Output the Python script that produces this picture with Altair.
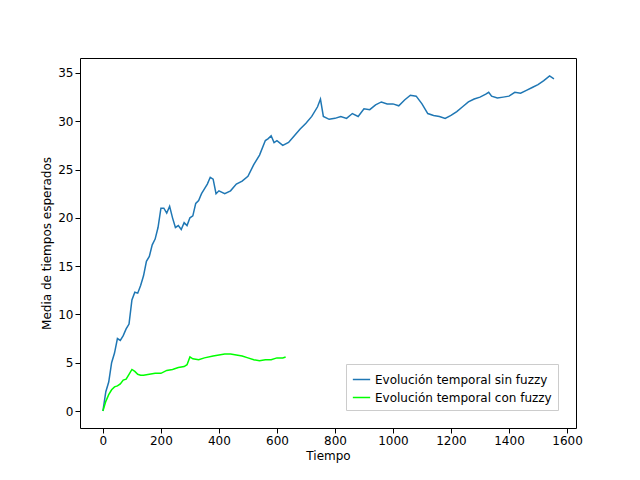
import altair as alt
import pandas as pd

bx = [0,10,20,30,40,50,60,70,80,90,100,110,120,130,140,150,160,170,180,190,200,210,220,230,240,250,260,270,280,290,300,310,320,330,340,350,360,370,380,390,400,420,440,460,480,500,520,540,560,570,580,590,600,620,640,660,680,700,720,740,750,760,780,800,820,840,860,880,900,920,940,960,980,1000,1020,1040,1060,1080,1100,1120,1140,1160,1180,1200,1220,1240,1260,1280,1300,1320,1330,1340,1360,1380,1400,1420,1440,1460,1480,1500,1520,1540,1555]
by = [0,2,3,5,6,7.5,7.3,7.8,8.5,9,11.5,12.3,12.2,13,14,15.5,16,17.2,17.8,19,21,21,20.5,21.2,20,19,19.2,18.8,19.5,19.2,20,20.2,21.5,21.8,22.5,23,23.5,24.2,24,22.5,22.8,22.5,22.8,23.5,23.8,24.3,25.5,26.5,28,28.2,28.5,27.8,28,27.5,27.8,28.5,29.2,29.8,30.5,31.5,32.3,30.5,30.2,30.3,30.5,30.3,30.8,30.5,31.3,31.2,31.7,32,31.8,31.8,31.6,32.2,32.7,32.6,31.8,30.8,30.6,30.5,30.3,30.6,31,31.5,32,32.3,32.5,32.8,33,32.6,32.4,32.5,32.6,33,32.9,33.2,33.5,33.8,34.2,34.7,34.4]
gx = [0,10,20,30,40,50,60,70,80,90,100,110,120,130,140,160,180,200,220,240,260,280,290,300,310,330,350,380,400,420,440,460,480,500,520,540,560,580,600,620,630]
gy = [0,1,1.7,2.2,2.5,2.6,2.8,3.2,3.3,3.8,4.3,4.1,3.8,3.7,3.7,3.8,3.9,3.9,4.2,4.3,4.5,4.6,4.8,5.6,5.4,5.3,5.5,5.7,5.8,5.9,5.9,5.8,5.7,5.5,5.3,5.2,5.3,5.3,5.5,5.5,5.6]

s1 = "Evolución temporal sin fuzzy"
s2 = "Evolución temporal con fuzzy"
df = pd.concat([
    pd.DataFrame({"x": bx, "y": by, "s": s1, "o": range(len(bx))}),
    pd.DataFrame({"x": gx, "y": gy, "s": s2, "o": range(len(gx))}),
])

chart = alt.Chart(df).mark_line(strokeWidth=1.5, clip=True).encode(
    x=alt.X("x:Q", title="Tiempo", scale=alt.Scale(domain=[-79, 1631], nice=False, zero=False),
            axis=alt.Axis(values=list(range(0, 1601, 200)), format="d", grid=False, labelFlush=False)),
    y=alt.Y("y:Q", title="Media de tiempos esperados", scale=alt.Scale(domain=[-1.76, 36.55], nice=False, zero=False),
            axis=alt.Axis(values=list(range(0, 36, 5)), format="d", grid=False, labelFlush=False)),
    color=alt.Color("s:N", title=None, sort=[s1, s2],
                    scale=alt.Scale(domain=[s1, s2], range=["#1f77b4", "#00ff00"]),
                    legend=alt.Legend(orient="bottom-right", strokeColor="#cccccc", fillColor="white",
                                      padding=6, labelFontSize=12, labelLimit=0,
                                      symbolType="stroke", symbolSize=300)),
    order="o:Q",
).properties(
    width=496, height=370, padding={"left": 72, "top": 50, "right": 10, "bottom": 44},
    autosize=alt.AutoSizeParams(type="none"),
).configure_view(stroke="black", strokeWidth=1).configure_axis(
    domain=False, labelFont="DejaVu Sans", titleFont="DejaVu Sans", labelFontSize=12, titleFontSize=12,
    titleFontWeight="normal", labelColor="black", titleColor="black", tickColor="black",
).configure_legend(labelFont="DejaVu Sans")

chart.save("out.html", embed_options={"renderer": "svg", "actions": False})
